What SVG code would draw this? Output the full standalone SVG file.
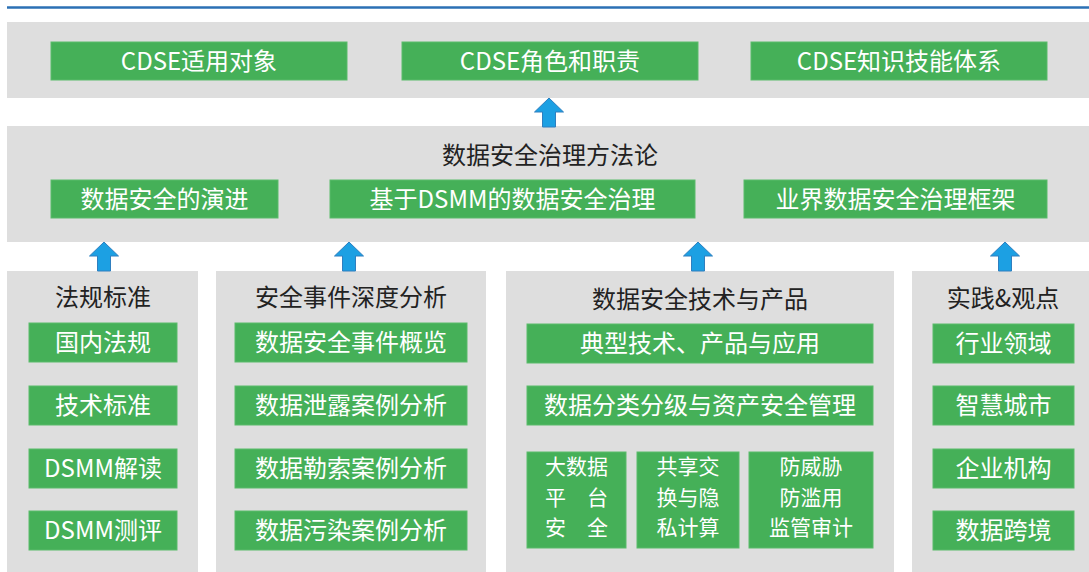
<svg xmlns="http://www.w3.org/2000/svg" width="1089" height="572" viewBox="0 0 1089 572">
<defs>
<style>
.band{fill:#dedede}
.g{fill:#45b058;stroke:#5bbb6b;stroke-width:1}
.t{font-family:"Noto Sans CJK SC","Noto Sans",sans-serif;font-size:24px;fill:#fff;text-anchor:middle}
.s{font-size:21px}
.h{font-family:"Noto Sans CJK SC","Noto Sans",sans-serif;font-size:24px;fill:#222;text-anchor:middle}
.arr{fill:#1ca0e3;stroke:#2f7fbf;stroke-width:1}
</style>
<path id="up" class="arr" d="M0,0 L14.5,14 L6.5,14 L6.5,29 L-6.5,29 L-6.5,14 L-14.5,14 Z"/>
</defs>
<rect width="1089" height="572" fill="#fff"/>
<line x1="7" y1="7.5" x2="1089" y2="7.5" stroke="#2b70b5" stroke-width="2.5"/>

<g id="top-band">
<rect class="band" x="7" y="22" width="1082" height="76"/>
</g>
<g id="node-cdse-obj"><rect class="g" x="51" y="42" width="296" height="38"/><text class="t" x="199" y="69.5">CDSE适用对象</text></g>
<g id="node-cdse-role"><rect class="g" x="402" y="42" width="296" height="38"/><text class="t" x="550" y="69.5">CDSE角色和职责</text></g>
<g id="node-cdse-skill"><rect class="g" x="751" y="42" width="296" height="38"/><text class="t" x="899" y="69.5">CDSE知识技能体系</text></g>

<g id="mid-band">
<rect class="band" x="7" y="126" width="1082" height="116"/>
<text class="h" x="550" y="163.5">数据安全治理方法论</text>
</g>
<g id="node-evolution"><rect class="g" x="51" y="180" width="227" height="38"/><text class="t" x="164.5" y="207.5">数据安全的演进</text></g>
<g id="node-dsmm-gov"><rect class="g" x="330" y="180" width="365" height="38"/><text class="t" x="512.5" y="207.5">基于DSMM的数据安全治理</text></g>
<g id="node-framework"><rect class="g" x="744" y="180" width="303" height="38"/><text class="t" x="895.5" y="207.5">业界数据安全治理框架</text></g>

<g id="col-law">
<rect class="band" x="7" y="271" width="191" height="301"/>
<text class="h" x="103" y="306">法规标准</text>
</g>
<g id="node-law1"><rect class="g" x="29" y="323" width="148" height="39"/><text class="t" x="103" y="351">国内法规</text></g>
<g id="node-law2"><rect class="g" x="29" y="386" width="148" height="39"/><text class="t" x="103" y="414">技术标准</text></g>
<g id="node-law3"><rect class="g" x="29" y="449" width="148" height="39"/><text class="t" x="103" y="477">DSMM解读</text></g>
<g id="node-law4"><rect class="g" x="29" y="511" width="148" height="39"/><text class="t" x="103" y="539">DSMM测评</text></g>

<g id="col-event">
<rect class="band" x="216" y="271" width="270" height="301"/>
<text class="h" x="351" y="306">安全事件深度分析</text>
</g>
<g id="node-ev1"><rect class="g" x="235" y="323" width="232" height="39"/><text class="t" x="351" y="351">数据安全事件概览</text></g>
<g id="node-ev2"><rect class="g" x="235" y="386" width="232" height="39"/><text class="t" x="351" y="414">数据泄露案例分析</text></g>
<g id="node-ev3"><rect class="g" x="235" y="449" width="232" height="39"/><text class="t" x="351" y="477">数据勒索案例分析</text></g>
<g id="node-ev4"><rect class="g" x="235" y="511" width="232" height="39"/><text class="t" x="351" y="539">数据污染案例分析</text></g>

<g id="col-tech">
<rect class="band" x="506" y="271" width="388" height="301"/>
<text class="h" x="700" y="308">数据安全技术与产品</text>
</g>
<g id="node-tech1"><rect class="g" x="527" y="324" width="346" height="39"/><text class="t" x="700" y="352">典型技术、产品与应用</text></g>
<g id="node-tech2"><rect class="g" x="527" y="386" width="346" height="39"/><text class="t" x="700" y="414">数据分类分级与资产安全管理</text></g>
<g id="node-tech3"><rect class="g" x="527" y="452" width="99" height="96"/>
<text class="t s" x="576.5" y="474">大数据</text>
<text class="t s" x="576.5" y="504.5" textLength="63" lengthAdjust="spacing">平 台</text>
<text class="t s" x="576.5" y="535" textLength="63" lengthAdjust="spacing">安 全</text></g>
<g id="node-tech4"><rect class="g" x="637" y="452" width="102" height="96"/>
<text class="t s" x="688" y="474">共享交</text>
<text class="t s" x="688" y="504.5">换与隐</text>
<text class="t s" x="688" y="535">私计算</text></g>
<g id="node-tech5"><rect class="g" x="749" y="452" width="124" height="96"/>
<text class="t s" x="811" y="474">防威胁</text>
<text class="t s" x="811" y="504.5">防滥用</text>
<text class="t s" x="811" y="535">监管审计</text></g>

<g id="col-practice">
<rect class="band" x="912" y="271" width="177" height="301"/>
<text class="h" x="1003" y="307">实践&amp;观点</text>
</g>
<g id="node-pr1"><rect class="g" x="933" y="324" width="141" height="39"/><text class="t" x="1003.5" y="352">行业领域</text></g>
<g id="node-pr2"><rect class="g" x="933" y="386" width="141" height="39"/><text class="t" x="1003.5" y="414">智慧城市</text></g>
<g id="node-pr3"><rect class="g" x="933" y="449" width="141" height="39"/><text class="t" x="1003.5" y="477">企业机构</text></g>
<g id="node-pr4"><rect class="g" x="933" y="511" width="141" height="39"/><text class="t" x="1003.5" y="539">数据跨境</text></g>

<g id="connectors">
<use href="#up" x="549" y="98"/>
<use href="#up" x="104" y="242"/>
<use href="#up" x="349" y="242"/>
<use href="#up" x="698" y="242"/>
<use href="#up" x="1005" y="242"/>
</g>
</svg>
